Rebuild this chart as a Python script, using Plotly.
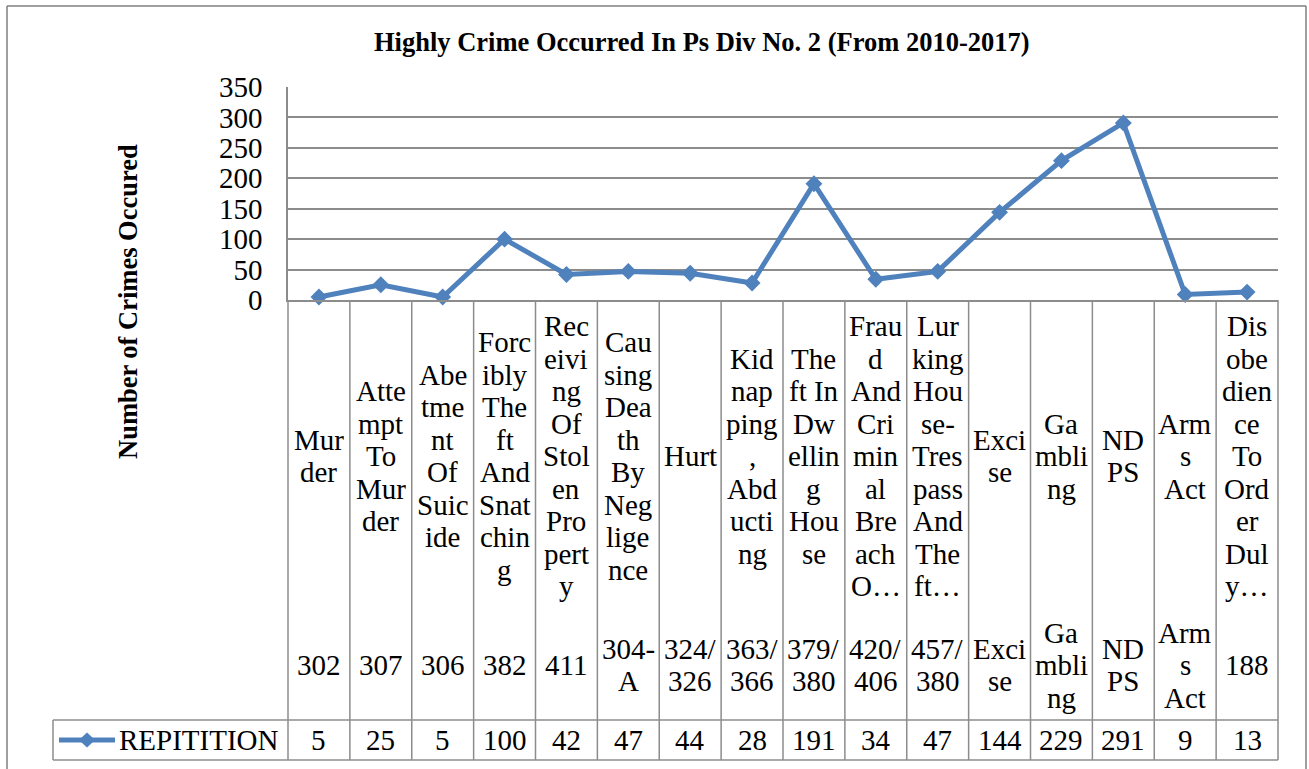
import plotly.graph_objects as go

# ---------------- data ----------------
categories = [
    "Murder", "Attempt To Murder", "Abetment Of Suicide", "Forcibly Theft And Snatching",
    "Receiving Of Stolen Property", "Causing Death By Negligence", "Hurt",
    "Kidnapping, Abducting", "Theft In Dwelling House", "Fraud And Criminal Breach O…",
    "Lurking House-Trespass And Theft…", "Excise", "Gambling", "NDPS", "Arms Act",
    "Disobedience To Order Duly…",
]
# category labels as wrapped in the original table cells
category_lines = [
    ["Mur", "der"],
    ["Atte", "mpt", "To", "Mur", "der"],
    ["Abe", "tme", "nt", "Of", "Suic", "ide"],
    ["Forc", "ibly", "The", "ft", "And", "Snat", "chin", "g"],
    ["Rec", "eivi", "ng", "Of", "Stol", "en", "Pro", "pert", "y"],
    ["Cau", "sing", "Dea", "th", "By", "Neg", "lige", "nce"],
    ["Hurt"],
    ["Kid", "nap", "ping", ",", "Abd", "ucti", "ng"],
    ["The", "ft In", "Dw", "ellin", "g", "Hou", "se"],
    ["Frau", "d", "And", "Cri", "min", "al", "Bre", "ach", "O…"],
    ["Lur", "king", "Hou", "se-", "Tres", "pass", "And", "The", "ft…"],
    ["Exci", "se"],
    ["Ga", "mbli", "ng"],
    ["ND", "PS"],
    ["Arm", "s", "Act"],
    ["Dis", "obe", "dien", "ce", "To", "Ord", "er", "Dul", "y…"],
]
section_codes = ["302", "307", "306", "382", "411", "304-A", "324/326", "363/366",
                 "379/380", "420/406", "457/380", "Excise", "Gambling", "NDPS",
                 "Arms Act", "188"]
code_lines = [
    ["302"], ["307"], ["306"], ["382"], ["411"], ["304-", "A"], ["324/", "326"],
    ["363/", "366"], ["379/", "380"], ["420/", "406"], ["457/", "380"],
    ["Exci", "se"], ["Ga", "mbli", "ng"], ["ND", "PS"], ["Arm", "s", "Act"], ["188"],
]
repetition = [5, 25, 5, 100, 42, 47, 44, 28, 191, 34, 47, 144, 229, 291, 9, 13]
y_ticks = [0, 50, 100, 150, 200, 250, 300, 350]
series_name = "REPITITION"
title_text = "Highly Crime Occurred In Ps Div No. 2 (From 2010-2017)"
y_title = "Number of Crimes Occured"

# ---------------- layout helpers ----------------
W, H = 1309, 769
PL, PR, PT, PB = 288, 1278, 87, 300            # plot area in page pixels
N = len(categories)


def px_x(px):
    return (px - PL) / (PR - PL)


def px_y(py):
    return (PB - py) / (PB - PT)


BLUE = "#4F81BD"
GRID = "#8C8C8C"
FRAME = "#7F7F7F"
FONT = "Liberation Serif"
FS = 29
LINE_H = 32.5

fig = go.Figure()
fig.add_trace(go.Scatter(
    x=categories, y=repetition, mode="lines+markers", name=series_name,
    line=dict(color=BLUE, width=5),
    marker=dict(symbol="diamond", size=13, color=BLUE),
    showlegend=False, cliponaxis=False, hoverinfo="skip",
))

shapes = []
# column separators of the data table
for i in range(N + 1):
    shapes.append(dict(type="line", xref="paper", yref="paper",
                       x0=i / N, x1=i / N, y0=0, y1=px_y(760),
                       line=dict(color=GRID, width=1.5)))
# series row of the data table
for yy in (720, 760):
    shapes.append(dict(type="line", xref="paper", yref="paper",
                       x0=px_x(53), x1=1, y0=px_y(yy), y1=px_y(yy),
                       line=dict(color=GRID, width=1.5)))
shapes.append(dict(type="line", xref="paper", yref="paper",
                   x0=px_x(53), x1=px_x(53), y0=px_y(720), y1=px_y(760),
                   line=dict(color=GRID, width=1.5)))
# legend key in the table
shapes.append(dict(type="line", xref="paper", yref="paper",
                   x0=px_x(59), x1=px_x(115), y0=px_y(740), y1=px_y(740),
                   line=dict(color=BLUE, width=5)))
shapes.append(dict(type="path", xref="paper", yref="paper",
                   path=(f"M {px_x(79)} {px_y(740)} L {px_x(87)} {px_y(732.5)} "
                         f"L {px_x(95)} {px_y(740)} L {px_x(87)} {px_y(747.5)} Z"),
                   fillcolor=BLUE, line=dict(color=BLUE, width=0)))
# outer chart frame
shapes.append(dict(type="line", xref="paper", yref="paper",
                   x0=px_x(7), x1=px_x(7), y0=px_y(6), y1=px_y(790),
                   line=dict(color=FRAME, width=1.5)))
shapes.append(dict(type="line", xref="paper", yref="paper",
                   x0=px_x(1306), x1=px_x(1306), y0=px_y(6), y1=px_y(790),
                   line=dict(color=FRAME, width=1.5)))
shapes.append(dict(type="line", xref="paper", yref="paper",
                   x0=px_x(7), x1=px_x(1306), y0=px_y(6), y1=px_y(6),
                   line=dict(color=FRAME, width=1.5)))

annotations = []


def stacked(lines, cat, center_py):
    k = len(lines)
    for j, t in enumerate(lines):
        py = center_py + (j - (k - 1) / 2) * LINE_H
        annotations.append(dict(
            x=cat, xref="x", y=px_y(py), yref="paper", text=t, showarrow=False,
            xanchor="center", yanchor="middle",
            font=dict(family=FONT, size=FS, color="black")))


for cat, lines in zip(categories, category_lines):
    stacked(lines, cat, 456)
for cat, lines in zip(categories, code_lines):
    stacked(lines, cat, 665)
for cat, v in zip(categories, repetition):
    stacked([str(v)], cat, 740)

annotations.append(dict(x=px_x(117), xref="paper", y=px_y(740), yref="paper",
                        text=series_name, showarrow=False, xanchor="left",
                        yanchor="middle", font=dict(family=FONT, size=FS, color="black")))
annotations.append(dict(x=px_x(702), xref="paper", y=px_y(42), yref="paper",
                        text=f"<b>{title_text}</b>", showarrow=False,
                        xanchor="center", yanchor="middle",
                        font=dict(family=FONT, size=26.5, color="black")))
annotations.append(dict(x=px_x(128), xref="paper", y=px_y(302), yref="paper",
                        text=f"<b>{y_title}</b>", showarrow=False, textangle=-90,
                        xanchor="center", yanchor="middle",
                        font=dict(family=FONT, size=26.5, color="black")))

fig.update_layout(
    width=W, height=H, autosize=False,
    margin=dict(l=PL, r=W - PR, t=PT, b=H - PB, pad=0),
    paper_bgcolor="white", plot_bgcolor="white",
    xaxis=dict(type="category", range=[-0.5, N - 0.5], showticklabels=False,
               showgrid=False, zeroline=False, showline=True, linecolor=GRID,
               linewidth=1.5, ticks="", fixedrange=True),
    yaxis=dict(range=[0, 350], tickvals=y_ticks, showgrid=True, gridcolor=GRID,
               gridwidth=1.5, zeroline=False, showline=True, linecolor=GRID,
               linewidth=1.5, ticks="", ticklabelstandoff=18,
               tickfont=dict(family=FONT, size=FS, color="black"), fixedrange=True),
    shapes=shapes, annotations=annotations, showlegend=False,
)

fig.write_html(
    "out.html",
    config={"displayModeBar": False},
    post_script="document.body.style.margin='0px';document.body.style.overflow='hidden';",
)
